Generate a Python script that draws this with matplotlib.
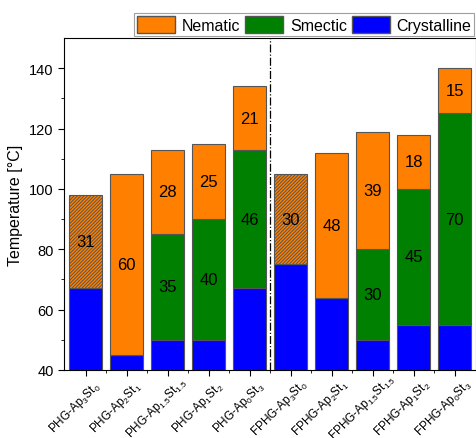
import matplotlib
matplotlib.use('Agg')
import matplotlib.pyplot as plt
import matplotlib.transforms as mtransforms
from matplotlib.patches import Patch
import numpy as np

plt.rcParams['font.family'] = ['Liberation Sans', 'DejaVu Sans']
plt.rcParams['mathtext.fontset'] = 'custom'
plt.rcParams['mathtext.rm'] = 'Liberation Sans'
plt.rcParams['mathtext.it'] = 'Liberation Sans'
plt.rcParams['mathtext.default'] = 'regular'
plt.rcParams['hatch.color'] = '#6b3300'
plt.rcParams['hatch.linewidth'] = 0.7

samples = ['PHG-Ap$_3$St$_0$', 'PHG-Ap$_2$St$_1$', 'PHG-Ap$_{1.5}$St$_{1.5}$',
           'PHG-Ap$_1$St$_2$', 'PHG-Ap$_0$St$_3$',
           'FPHG-Ap$_3$St$_0$', 'FPHG-Ap$_2$St$_1$', 'FPHG-Ap$_{1.5}$St$_{1.5}$',
           'FPHG-Ap$_1$St$_2$', 'FPHG-Ap$_0$St$_3$']
crystalline = [67, 45, 50, 50, 67, 75, 64, 50, 55, 55]
smectic = [0, 0, 35, 40, 46, 0, 0, 30, 45, 70]
nematic = [31, 60, 28, 25, 21, 30, 48, 39, 18, 15]
hatched = [True, False, False, False, False, True, False, False, False, False]

x = np.arange(1, len(samples) + 1)
base = 40
width = 0.8
edge = '#555555'
c_cry, c_sme, c_nem = '#0000ff', '#008000', '#ff8000'

fig = plt.figure(figsize=(4.77, 4.39), dpi=100)
ax = fig.add_axes([0.134, 0.155, 0.864, 0.756])

cr = np.array(crystalline)
sm = np.array(smectic)
ne = np.array(nematic)

ax.bar(x, cr - base, width, bottom=base, color=c_cry, edgecolor=edge, linewidth=0.8)
ax.bar(x, sm, width, bottom=cr, color=c_sme, edgecolor=edge, linewidth=0.8)
nb = ax.bar(x, ne, width, bottom=cr + sm, color=c_nem, edgecolor=edge, linewidth=0.8)
for rect, h in zip(nb, hatched):
    if h:
        rect.set_hatch('//////////')

# phase width labels
for xi, c, s, n in zip(x, cr, sm, ne):
    if s > 0:
        ax.text(xi, c + s / 2, str(s), ha='center', va='center', fontsize=12)
    ax.text(xi, c + s + n / 2, str(n), ha='center', va='center', fontsize=12)

ax.axvline(5.5, color='black', linestyle='-.', linewidth=0.9)

ax.set_xlim(0.47, 10.52)
ax.set_ylim(40, 150)
ax.set_xticks(x)
ax.set_xticks(x[:-1] + 0.5, minor=True)
ax.set_xticklabels([])
ax.set_yticks(np.arange(40, 141, 20))
ax.set_yticks(np.arange(50, 150, 20), minor=True)
ax.tick_params(axis='both', which='major', direction='out', length=4, labelsize=10)
ax.tick_params(axis='both', which='minor', direction='out', length=2)
ax.tick_params(axis='y', labelsize=10.5)
ax.set_ylabel('Temperature [°C]', fontsize=11.5)

# sample names, slanted, centred a little left of and below each tick
shift = mtransforms.ScaledTranslation(-11 / 100, -37 / 100, fig.dpi_scale_trans)
for xi, name in zip(x, samples):
    ax.text(xi, 0, name, transform=ax.get_xaxis_transform() + shift,
            rotation=45, ha='center', va='center', rotation_mode='anchor',
            fontsize=8.5)

handles = [Patch(facecolor=c_nem, edgecolor=edge, label='Nematic'),
           Patch(facecolor=c_sme, edgecolor=edge, label='Smectic'),
           Patch(facecolor=c_cry, edgecolor=edge, label='Crystalline')]
leg = ax.legend(handles=handles, ncol=3, loc='lower right',
                bbox_to_anchor=(1.0, 1.0), fontsize=11.5, frameon=True,
                fancybox=False, edgecolor='#888888', handlelength=2.4,
                handleheight=1.3, handletextpad=0.4, columnspacing=0.3,
                borderpad=0.2, borderaxespad=0.1)
leg.get_frame().set_linewidth(0.8)

fig.savefig('out.png', dpi=100)
